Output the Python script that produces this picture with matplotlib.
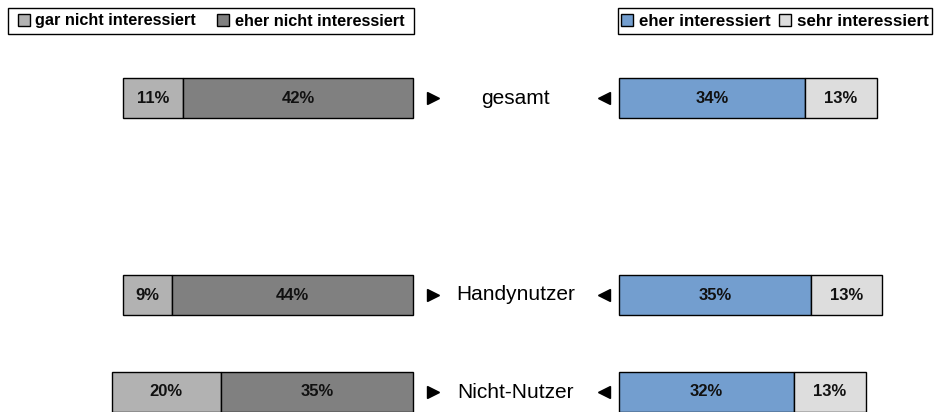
import matplotlib.pyplot as plt
from matplotlib.patches import Patch, Rectangle

plt.rcParams['font.family'] = ['Liberation Sans', 'DejaVu Sans']

# data
groups = ["gesamt", "Handynutzer", "Nicht-Nutzer"]
gar_nicht = [11, 9, 20]
eher_nicht = [42, 44, 35]
eher = [34, 35, 32]
sehr = [13, 13, 13]

c_gar = "#B2B2B2"
c_eher_nicht = "#808080"
c_eher = "#739ECF"
c_sehr = "#DDDDDD"

W, H = 936, 412
px = 5.48          # pixel per percent
x0 = 413           # pixel where left bars end
gap = 206 / px     # distance between left and right bars (in %)
y_pos = [98, 295, 392]
bar_h = 40

fig = plt.figure(figsize=(W / 100, H / 100), dpi=100)
ax = fig.add_axes([0, 0, 1, 1])
ax.set_xlim(-x0 / px, (W - x0) / px)
ax.set_ylim(H, 0)
ax.axis("off")

kw = dict(height=bar_h, edgecolor="black", linewidth=1)
ax.barh(y_pos, gar_nicht, left=[-(a + b) for a, b in zip(gar_nicht, eher_nicht)], color=c_gar, **kw)
ax.barh(y_pos, eher_nicht, left=[-b for b in eher_nicht], color=c_eher_nicht, **kw)
ax.barh(y_pos, eher, left=gap, color=c_eher, **kw)
ax.barh(y_pos, sehr, left=[gap + c for c in eher], color=c_sehr, **kw)

tk = dict(ha="center", va="center", fontsize=12, fontweight="bold", color="#111111")
for y, a, b, c, d in zip(y_pos, gar_nicht, eher_nicht, eher, sehr):
    ax.text(-(a + b) + a / 2, y, f"{a}%", **tk)
    ax.text(-b / 2, y, f"{b}%", **tk)
    ax.text(gap + c / 2, y, f"{c}%", **tk)
    ax.text(gap + c + d / 2, y, f"{d}%", **tk)

for y, g in zip(y_pos, groups):
    ax.text(gap / 2 - 0.1, y, g, ha="center", va="center", fontsize=15)
    ax.plot(3.7, y, marker=">", color="black", markersize=8, linestyle="none")
    ax.plot(gap - 2.7, y, marker="<", color="black", markersize=8, linestyle="none")

# legend frames (pixel boxes)
for bx0, bx1 in [(8, 414), (618, 932)]:
    fig.patches.append(Rectangle((bx0 / W, 1 - 34 / H), (bx1 - bx0) / W, 26 / H,
                                 transform=fig.transFigure, facecolor="white",
                                 edgecolor="black", linewidth=1, zorder=0))

lkw = dict(ncol=2, frameon=False, handlelength=0.72, handleheight=0.72,
           handletextpad=0.35, borderpad=0, borderaxespad=0, loc="center left")
fig.legend(handles=[Patch(facecolor=c_gar, edgecolor="black", label="gar nicht interessiert"),
                    Patch(facecolor=c_eher_nicht, edgecolor="black", label="eher nicht interessiert")],
           bbox_to_anchor=(18 / W, 1 - 21 / H), prop={"weight": "bold", "size": 11.7},
           columnspacing=1.3, **lkw)
fig.legend(handles=[Patch(facecolor=c_eher, edgecolor="black", label="eher interessiert"),
                    Patch(facecolor=c_sehr, edgecolor="black", label="sehr interessiert")],
           bbox_to_anchor=(621 / W, 1 - 21 / H), prop={"weight": "bold", "size": 12.2},
           columnspacing=0.5, **lkw)

fig.savefig("out.png", dpi=100)
